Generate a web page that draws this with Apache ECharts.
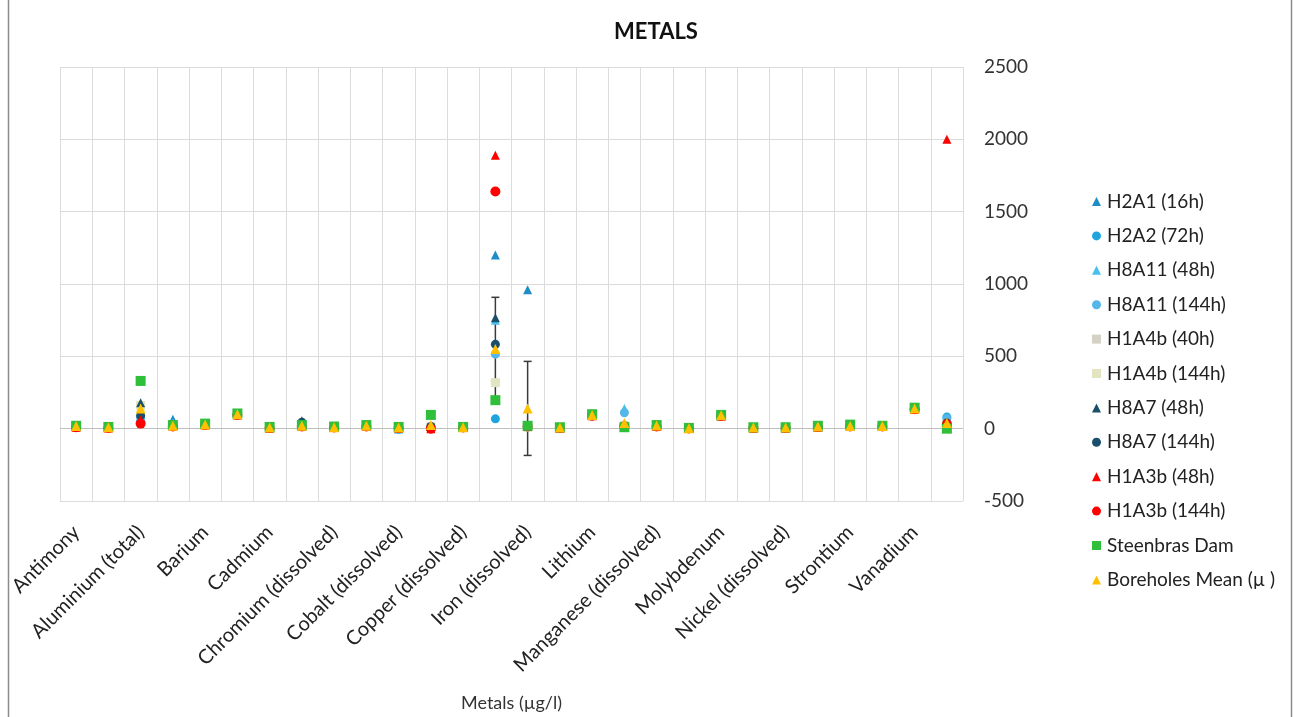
<!DOCTYPE html>
<html>
<head>
<meta charset="utf-8">
<title>METALS</title>
<script src="https://cdn.jsdelivr.net/npm/echarts@6/dist/echarts.min.js"></script>
<style>
  html, body { margin: 0; padding: 0; background: #ffffff; }
  #chart { width: 1296px; height: 717px; }
</style>
</head>
<body>
<div id="chart"></div>
<script>
// Metal determinands along the category axis
const categories = [
  'Antimony', 'Arsenic', 'Aluminium (total)', 'Aluminium (dissolved)', 'Barium', 'Boron',
  'Cadmium', 'Chromium (total)', 'Chromium (dissolved)', 'Cobalt (total)', 'Cobalt (dissolved)',
  'Copper (total)', 'Copper (dissolved)', 'Iron (total)', 'Iron (dissolved)', 'Lead', 'Lithium',
  'Manganese (total)', 'Manganese (dissolved)', 'Mercury', 'Molybdenum', 'Nickel (total)',
  'Nickel (dissolved)', 'Selenium', 'Strontium', 'Tin', 'Vanadium', 'Zinc'
];

// Concentrations (µg/l) per sample
const h2a1_16h    = [15, 8, 60, 65, 30, 100, 5, 20, 8, 15, 0, 15, 8, 1200, 960, 5, 95, 20, 20, 2, 90, 5, 5, 12, 15, 15, 140, 50];
const h2a2_72h    = [12, 6, 50, 30, 25, 95, 5, 15, 8, 15, -5, 15, 8, 68, 10, 5, 90, 15, 15, 2, 88, 5, 5, 12, 15, 15, 135, 80];
const h8a11_48h   = [15, 8, 100, 40, 30, 100, 5, 20, 8, 15, 0, 15, 8, 750, 15, 5, 95, 140, 20, 2, 90, 5, 5, 12, 15, 15, 140, 50];
const h8a11_144h  = [12, 6, 80, 30, 25, 95, 5, 15, 8, 15, -5, 15, 8, 515, 10, 5, 90, 110, 15, 2, 88, 5, 5, 12, 15, 15, 135, 70];
const h1a4b_40h   = [10, 5, 170, 20, 25, 100, 5, 15, 8, 15, 5, 15, 8, 330, 10, 5, 95, 20, 20, 2, 90, 5, 5, 12, 15, 15, 140, 30];
const h1a4b_144h  = [10, 5, 160, 20, 25, 100, 5, 15, 8, 15, 5, 15, 8, 318, 10, 5, 95, 20, 20, 2, 90, 5, 5, 12, 15, 15, 140, 30];
const h8a7_48h    = [15, 8, 180, 30, 30, 100, 5, 55, 10, 15, 5, 15, 8, 766, 15, 5, 95, 20, 20, 2, 90, 5, 5, 12, 15, 15, 140, 40];
const h8a7_144h   = [12, 6, 90, 25, 30, 100, 5, 45, 10, 15, 5, 15, 8, 583, 15, 5, 95, 20, 20, 2, 90, 5, 5, 12, 15, 15, 140, 40];
const h1a3b_48h   = [10, 5, 60, 20, 25, 95, 5, 15, 8, 15, 5, 0, 8, 1890, 15, 5, 90, 15, 15, 2, 88, 5, 5, 12, 15, 15, 135, 2000];
const h1a3b_144h  = [10, 5, 35, 15, 25, 95, 5, 15, 8, 15, 5, 0, 8, 1640, 15, 5, 90, 15, 15, 2, 88, 5, 5, 12, 15, 15, 135, 30];
const steenbras   = [20, 12, 330, 25, 35, 105, 12, 25, 15, 25, 12, 95, 12, 197, 20, 10, 100, 10, 25, 5, 95, 10, 10, 20, 28, 20, 145, 0];
const boreholes   = [18, 10, 140, 20, 28, 100, 8, 20, 10, 20, 8, 25, 10, 550, 140, 8, 95, 40, 22, 3, 92, 8, 8, 15, 18, 18, 140, 40];
// Spread of the borehole mean (± µg/l)
const boreholesErr = [0, 0, 0, 0, 0, 0, 0, 0, 0, 0, 0, 0, 0, 358, 325, 0, 0, 0, 0, 0, 0, 0, 0, 0, 0, 0, 0, 0];

// Value axis ticks
const yTicks = [-500, 0, 500, 1000, 1500, 2000, 2500];

const seriesDefs = [
  { name: 'H2A1 (16h)',          data: h2a1_16h,   symbol: 'triangle', color: '#1e8cc6', size: 9 },
  { name: 'H2A2 (72h)',          data: h2a2_72h,   symbol: 'circle',   color: '#1ea5df', size: 9 },
  { name: 'H8A11 (48h)',         data: h8a11_48h,  symbol: 'triangle', color: '#48c0ee', size: 9 },
  { name: 'H8A11 (144h)',        data: h8a11_144h, symbol: 'circle',   color: '#55b6ea', size: 9 },
  { name: 'H1A4b (40h)',         data: h1a4b_40h,  symbol: 'rect',     color: '#d5d1c3', size: [9, 3] },
  { name: 'H1A4b (144h)',        data: h1a4b_144h, symbol: 'rect',     color: '#e2e4c2', size: 9 },
  { name: 'H8A7 (48h)',          data: h8a7_48h,   symbol: 'triangle', color: '#1b4e68', size: 9 },
  { name: 'H8A7 (144h)',         data: h8a7_144h,  symbol: 'circle',   color: '#1a4f6c', size: 9 },
  { name: 'H1A3b (48h)',         data: h1a3b_48h,  symbol: 'triangle', color: '#ff0000', size: 9 },
  { name: 'H1A3b (144h)',        data: h1a3b_144h, symbol: 'circle',   color: '#ff0000', size: 10 },
  { name: 'Steenbras Dam',       data: steenbras,  symbol: 'rect',     color: '#2fbf3a', size: 10 },
  { name: 'Boreholes Mean (µ )', data: boreholes,  symbol: 'triangle', color: '#ffc000', size: 10 }
];

const FONT = 'Lato, "Open Sans", "Liberation Sans", sans-serif';

const scatterSeries = seriesDefs.map((d, i) => {
  const s = {
    name: d.name,
    type: 'scatter',
    symbol: d.symbol,
    symbolSize: d.size,
    itemStyle: { color: d.color, opacity: 1 },
    data: d.data,
    z: 3 + i
  };
  if (i === 0) {
    s.markLine = {
      silent: true,
      symbol: 'none',
      label: { show: false },
      lineStyle: { color: '#bfbfbf', width: 1, type: 'solid' },
      data: [{ yAxis: 0 }],
      z: 1
    };
  }
  return s;
});

// Error bars for the borehole mean
const errData = [];
boreholes.forEach((v, i) => {
  if (boreholesErr[i] > 0) errData.push([i, v - boreholesErr[i], v + boreholesErr[i]]);
});

const errorSeries = {
  type: 'custom',
  name: 'errors',
  silent: true,
  z: 2,
  data: errData,
  renderItem: function (params, api) {
    const x = api.value(0);
    const lo = api.coord([x, api.value(1)]);
    const hi = api.coord([x, api.value(2)]);
    const cap = 4;
    const style = { stroke: '#3a3a3a', lineWidth: 1.5 };
    return {
      type: 'group',
      children: [
        { type: 'line', shape: { x1: lo[0], y1: lo[1], x2: hi[0], y2: hi[1] }, style },
        { type: 'line', shape: { x1: hi[0] - cap, y1: hi[1], x2: hi[0] + cap, y2: hi[1] }, style },
        { type: 'line', shape: { x1: lo[0] - cap, y1: lo[1], x2: lo[0] + cap, y2: lo[1] }, style }
      ]
    };
  }
};

const chart = echarts.init(document.getElementById('chart'), null, { renderer: 'canvas' });

chart.setOption({
  backgroundColor: '#ffffff',
  animation: false,
  textStyle: { fontFamily: FONT },
  title: {
    text: 'METALS',
    left: 651,
    top: 16,
    textAlign: 'center',
    textStyle: { fontFamily: FONT, fontSize: 22, fontWeight: 'bold', color: '#111111' }
  },
  graphic: [{
    type: 'rect',
    shape: { x: 8.5, y: -2, width: 1283, height: 722 },
    style: { fill: 'none', stroke: '#8c8c8c', lineWidth: 1.5 },
    silent: true
  }],
  grid: { left: 60, right: 333, top: 67, bottom: 207 },
  legend: {
    orient: 'vertical',
    left: 1087,
    top: 187,
    itemWidth: 9,
    itemHeight: 9,
    itemGap: 15.4,
    textStyle: { fontFamily: FONT, fontSize: 19, color: '#222222', padding: [0, 0, 0, 1] },
    data: seriesDefs.map(d => ({ name: d.name, icon: d.symbol }))
  },
  xAxis: {
    type: 'category',
    data: categories,
    boundaryGap: true,
    name: 'Metals (µg/l)',
    nameLocation: 'middle',
    nameGap: 193,
    nameTextStyle: { fontFamily: FONT, fontSize: 18, color: '#333333' },
    axisLine: { show: false, onZero: false },
    axisTick: { show: false, interval: 0 },
    splitLine: { show: true, interval: 0, lineStyle: { color: '#dcdcdc', width: 1 } },
    axisLabel: {
      interval: 1,
      rotate: 45,
      margin: 28,
      fontFamily: FONT,
      fontSize: 20,
      color: '#222222'
    }
  },
  yAxis: {
    type: 'value',
    position: 'right',
    min: yTicks[0],
    max: yTicks[yTicks.length - 1],
    interval: 500,
    axisLine: { show: false },
    axisTick: { show: false },
    splitLine: { show: true, lineStyle: { color: '#dcdcdc', width: 1 } },
    axisLabel: {
      margin: 21,
      fontFamily: FONT,
      fontSize: 19,
      color: '#333333',
      formatter: v => String(v)
    }
  },
  series: [errorSeries].concat(scatterSeries)
});
</script>
</body>
</html>
